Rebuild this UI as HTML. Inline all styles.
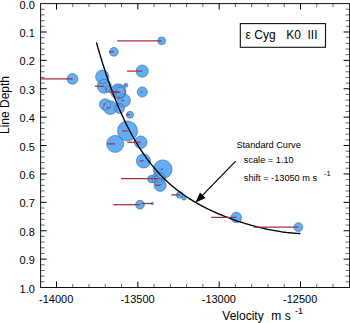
<!DOCTYPE html>
<html><head><meta charset="utf-8"><style>
html,body{margin:0;padding:0;background:#fff;width:350px;height:323px;overflow:hidden}
svg{display:block}
text{font-family:"Liberation Sans",sans-serif}
</style></head><body>
<svg width="350" height="323" viewBox="0 0 350 323"><rect width="350" height="323" fill="#fff"/><g><circle cx="72.5" cy="78.85" r="5.40" fill="#62adf4"/><circle cx="161.7" cy="40.8" r="3.90" fill="#62adf4"/><circle cx="113.85" cy="51.8" r="4.40" fill="#62adf4"/><circle cx="142.2" cy="71.1" r="6.10" fill="#62adf4"/><circle cx="142.3" cy="92.0" r="5.10" fill="#62adf4"/><circle cx="102.3" cy="76.7" r="6.70" fill="#62adf4"/><circle cx="104.3" cy="86.3" r="7.00" fill="#62adf4"/><circle cx="107.6" cy="89.0" r="2.70" fill="#62adf4"/><circle cx="118.2" cy="91.4" r="7.60" fill="#62adf4"/><circle cx="119.0" cy="92.0" r="6.20" fill="#62adf4"/><circle cx="120.6" cy="92.3" r="5.20" fill="#62adf4"/><circle cx="125.9" cy="85.3" r="2.00" fill="#62adf4"/><circle cx="124.0" cy="100.5" r="6.50" fill="#62adf4"/><circle cx="105.1" cy="104.4" r="5.70" fill="#62adf4"/><circle cx="110.3" cy="107.6" r="6.80" fill="#62adf4"/><circle cx="119.5" cy="108.5" r="5.00" fill="#62adf4"/><circle cx="130.0" cy="114.8" r="3.50" fill="#62adf4"/><circle cx="127.5" cy="130.9" r="10.00" fill="#62adf4"/><circle cx="115.2" cy="143.9" r="8.50" fill="#62adf4"/><circle cx="140.7" cy="142.3" r="6.30" fill="#62adf4"/><circle cx="143.5" cy="160.9" r="7.10" fill="#62adf4"/><circle cx="162.7" cy="169.3" r="9.40" fill="#62adf4"/><circle cx="151.5" cy="179.1" r="3.80" fill="#62adf4"/><circle cx="158.5" cy="178.6" r="6.60" fill="#62adf4"/><circle cx="158.5" cy="178.6" r="4.00" fill="#62adf4"/><circle cx="160.2" cy="185.4" r="6.00" fill="#62adf4"/><circle cx="179.7" cy="194.9" r="3.30" fill="#62adf4"/><circle cx="184.0" cy="197.9" r="2.20" fill="#62adf4"/><circle cx="140.0" cy="204.7" r="4.40" fill="#62adf4"/><circle cx="152.4" cy="203.5" r="1.20" fill="#62adf4"/><circle cx="236.3" cy="217.4" r="5.30" fill="#62adf4"/><circle cx="298.4" cy="227.1" r="4.40" fill="#62adf4"/></g><g fill="none" stroke="#36639a" stroke-width="0.65" opacity="0.9"><circle cx="72.5" cy="78.85" r="5.40"/><circle cx="161.7" cy="40.8" r="3.90"/><circle cx="113.85" cy="51.8" r="4.40"/><circle cx="142.2" cy="71.1" r="6.10"/><circle cx="142.3" cy="92.0" r="5.10"/><circle cx="102.3" cy="76.7" r="6.70"/><circle cx="104.3" cy="86.3" r="7.00"/><circle cx="107.6" cy="89.0" r="2.70"/><circle cx="118.2" cy="91.4" r="7.60"/><circle cx="119.0" cy="92.0" r="6.20"/><circle cx="120.6" cy="92.3" r="5.20"/><circle cx="125.9" cy="85.3" r="2.00"/><circle cx="124.0" cy="100.5" r="6.50"/><circle cx="105.1" cy="104.4" r="5.70"/><circle cx="110.3" cy="107.6" r="6.80"/><circle cx="119.5" cy="108.5" r="5.00"/><circle cx="130.0" cy="114.8" r="3.50"/><circle cx="127.5" cy="130.9" r="10.00"/><circle cx="115.2" cy="143.9" r="8.50"/><circle cx="140.7" cy="142.3" r="6.30"/><circle cx="143.5" cy="160.9" r="7.10"/><circle cx="162.7" cy="169.3" r="9.40"/><circle cx="151.5" cy="179.1" r="3.80"/><circle cx="158.5" cy="178.6" r="6.60"/><circle cx="158.5" cy="178.6" r="4.00"/><circle cx="160.2" cy="185.4" r="6.00"/><circle cx="179.7" cy="194.9" r="3.30"/><circle cx="184.0" cy="197.9" r="2.20"/><circle cx="140.0" cy="204.7" r="4.40"/><circle cx="152.4" cy="203.5" r="1.20"/><circle cx="236.3" cy="217.4" r="5.30"/><circle cx="298.4" cy="227.1" r="4.40"/></g><path d="M96.40,42.31 L96.97,44.33 L97.54,46.34 L98.11,48.32 L98.68,50.28 L99.25,52.23 L99.82,54.15 L100.39,56.05 L100.96,57.93 L101.53,59.80 L102.09,61.64 L102.66,63.46 L103.23,65.27 L103.80,67.05 L104.37,68.82 L104.94,70.57 L105.51,72.29 L106.08,74.00 L106.65,75.70 L107.22,77.37 L107.79,79.03 L108.36,80.67 L108.93,82.29 L109.50,83.89 L110.07,85.48 L110.64,87.05 L111.21,88.60 L111.78,90.13 L112.35,91.65 L112.92,93.16 L113.48,94.64 L114.05,96.11 L114.62,97.57 L115.19,99.01 L115.76,100.43 L116.33,101.84 L116.90,103.23 L117.47,104.61 L118.04,105.97 L118.61,107.32 L119.18,108.65 L119.75,109.97 L120.32,111.27 L120.89,112.56 L121.46,113.84 L122.03,115.10 L122.60,116.35 L123.17,117.59 L123.74,118.81 L124.31,120.01 L124.87,121.21 L125.44,122.39 L126.01,123.56 L126.58,124.71 L127.15,125.86 L127.72,126.99 L128.29,128.10 L128.86,129.21 L129.43,130.30 L130.00,131.38 L130.50,132.32 L131.93,134.96 L133.36,137.52 L134.78,140.01 L136.21,142.43 L137.64,144.79 L139.07,147.08 L140.49,149.31 L141.92,151.48 L143.35,153.59 L144.78,155.64 L146.21,157.64 L147.63,159.58 L149.06,161.47 L150.49,163.31 L151.92,165.10 L153.34,166.84 L154.77,168.53 L156.20,170.18 L157.63,171.79 L159.05,173.35 L160.48,174.87 L161.91,176.35 L163.34,177.80 L164.77,179.20 L166.19,180.57 L167.62,181.91 L169.05,183.21 L170.48,184.47 L171.90,185.71 L173.33,186.91 L174.76,188.09 L176.19,189.23 L177.62,190.35 L179.04,191.44 L180.47,192.51 L181.90,193.55 L183.33,194.56 L184.75,195.56 L186.18,196.53 L187.61,197.47 L189.04,198.40 L190.46,199.31 L191.89,200.19 L193.32,201.06 L194.75,201.91 L196.18,202.74 L197.60,203.55 L199.03,204.35 L200.46,205.13 L201.89,205.89 L203.31,206.64 L204.74,207.38 L206.17,208.10 L207.60,208.80 L209.03,209.50 L210.45,210.18 L211.88,210.85 L213.31,211.50 L214.74,212.15 L216.16,212.78 L217.59,213.40 L219.02,214.01 L220.45,214.61 L221.87,215.20 L223.30,215.78 L224.73,216.35 L226.16,216.90 L227.59,217.45 L229.01,217.99 L230.44,218.52 L231.87,219.05 L233.30,219.56 L234.72,220.06 L236.15,220.56 L237.58,221.05 L239.01,221.52 L240.44,221.99 L241.86,222.46 L243.29,222.91 L244.72,223.35 L246.15,223.79 L247.57,224.22 L249.00,224.64 L250.43,225.05 L251.86,225.45 L253.28,225.84 L254.71,226.23 L256.14,226.61 L257.57,226.98 L259.00,227.34 L260.42,227.69 L261.85,228.03 L263.28,228.37 L264.71,228.69 L266.13,229.01 L267.56,229.31 L268.99,229.61 L270.42,229.90 L271.85,230.18 L273.27,230.45 L274.70,230.71 L276.13,230.96 L277.56,231.20 L278.98,231.43 L280.41,231.65 L281.84,231.86 L283.27,232.06 L284.69,232.25 L286.12,232.43 L287.55,232.60 L288.98,232.75 L290.41,232.90 L291.83,233.03 L293.26,233.15 L294.69,233.26 L296.12,233.36 L297.54,233.45 L298.97,233.53 L300.40,233.59" fill="none" stroke="#000" stroke-width="1.35"/><g stroke="#a82e3a" stroke-width="1.25"><line x1="40.5" y1="78.85" x2="72.5" y2="78.85"/><line x1="117.2" y1="40.8" x2="161.7" y2="40.8"/><line x1="109.1" y1="51.8" x2="113.85" y2="51.8"/><line x1="127.1" y1="71.1" x2="142.2" y2="71.1"/><line x1="140.8" y1="92.0" x2="142.3" y2="92.0"/><line x1="95.0" y1="86.3" x2="104.3" y2="86.3"/><line x1="106.1" y1="89.0" x2="107.6" y2="89.0"/><line x1="112.9" y1="92.0" x2="119.0" y2="92.0"/><line x1="109.1" y1="92.3" x2="120.6" y2="92.3"/><line x1="124.4" y1="85.3" x2="125.9" y2="85.3"/><line x1="121.4" y1="100.5" x2="124.0" y2="100.5"/><line x1="103.6" y1="104.4" x2="105.1" y2="104.4"/><line x1="106.6" y1="107.6" x2="110.3" y2="107.6"/><line x1="118.0" y1="108.5" x2="119.5" y2="108.5"/><line x1="126.0" y1="114.8" x2="130.0" y2="114.8"/><line x1="122.1" y1="130.9" x2="127.5" y2="130.9"/><line x1="106.9" y1="143.9" x2="115.2" y2="143.9"/><line x1="127.4" y1="142.3" x2="140.7" y2="142.3"/><line x1="139.4" y1="160.9" x2="143.5" y2="160.9"/><line x1="161.0" y1="169.3" x2="162.7" y2="169.3"/><line x1="121.1" y1="178.6" x2="158.5" y2="178.6"/><line x1="155.6" y1="185.4" x2="160.2" y2="185.4"/><line x1="171.1" y1="194.9" x2="179.7" y2="194.9"/><line x1="113.3" y1="204.7" x2="140.0" y2="204.7"/><line x1="141.6" y1="203.5" x2="152.4" y2="203.5"/><line x1="211.1" y1="217.4" x2="236.3" y2="217.4"/><line x1="254.0" y1="227.1" x2="298.4" y2="227.1"/></g><line x1="235.7" y1="161.1" x2="200.5" y2="197.4" stroke="#000" stroke-width="1.2"/><path d="M195.5,202.4 L200.0,192.6 L205.6,198.0 Z" fill="#000"/><rect x="40.6" y="3.6" width="309.0" height="283.9" fill="none" stroke="#111" stroke-width="1.0"/><path d="M40.6,31.99h6M349.6,31.99h-6M40.6,60.38h6M349.6,60.38h-6M40.6,88.77h6M349.6,88.77h-6M40.6,117.16h6M349.6,117.16h-6M40.6,145.55h6M349.6,145.55h-6M40.6,173.94h6M349.6,173.94h-6M40.6,202.33h6M349.6,202.33h-6M40.6,230.72h6M349.6,230.72h-6M40.6,259.11h6M349.6,259.11h-6M56.50,287.5v-6M56.50,3.6v6M137.83,287.5v-6M137.83,3.6v6M219.16,287.5v-6M219.16,3.6v6M300.49,287.5v-6M300.49,3.6v6" stroke="#000" stroke-width="1.0" fill="none"/><path d="M40.6,9.28h4M349.6,9.28h-4M40.6,14.96h4M349.6,14.96h-4M40.6,20.63h4M349.6,20.63h-4M40.6,26.31h4M349.6,26.31h-4M40.6,37.67h4M349.6,37.67h-4M40.6,43.35h4M349.6,43.35h-4M40.6,49.02h4M349.6,49.02h-4M40.6,54.70h4M349.6,54.70h-4M40.6,66.06h4M349.6,66.06h-4M40.6,71.74h4M349.6,71.74h-4M40.6,77.41h4M349.6,77.41h-4M40.6,83.09h4M349.6,83.09h-4M40.6,94.45h4M349.6,94.45h-4M40.6,100.13h4M349.6,100.13h-4M40.6,105.80h4M349.6,105.80h-4M40.6,111.48h4M349.6,111.48h-4M40.6,122.84h4M349.6,122.84h-4M40.6,128.52h4M349.6,128.52h-4M40.6,134.19h4M349.6,134.19h-4M40.6,139.87h4M349.6,139.87h-4M40.6,151.23h4M349.6,151.23h-4M40.6,156.91h4M349.6,156.91h-4M40.6,162.58h4M349.6,162.58h-4M40.6,168.26h4M349.6,168.26h-4M40.6,179.62h4M349.6,179.62h-4M40.6,185.30h4M349.6,185.30h-4M40.6,190.97h4M349.6,190.97h-4M40.6,196.65h4M349.6,196.65h-4M40.6,208.01h4M349.6,208.01h-4M40.6,213.69h4M349.6,213.69h-4M40.6,219.36h4M349.6,219.36h-4M40.6,225.04h4M349.6,225.04h-4M40.6,236.40h4M349.6,236.40h-4M40.6,242.08h4M349.6,242.08h-4M40.6,247.75h4M349.6,247.75h-4M40.6,253.43h4M349.6,253.43h-4M40.6,264.79h4M349.6,264.79h-4M40.6,270.47h4M349.6,270.47h-4M40.6,276.14h4M349.6,276.14h-4M40.6,281.82h4M349.6,281.82h-4M72.77,287.5v-3.5M72.77,3.6v3.5M89.03,287.5v-3.5M89.03,3.6v3.5M105.30,287.5v-3.5M105.30,3.6v3.5M121.56,287.5v-3.5M121.56,3.6v3.5M154.10,287.5v-3.5M154.10,3.6v3.5M170.36,287.5v-3.5M170.36,3.6v3.5M186.63,287.5v-3.5M186.63,3.6v3.5M202.89,287.5v-3.5M202.89,3.6v3.5M235.43,287.5v-3.5M235.43,3.6v3.5M251.69,287.5v-3.5M251.69,3.6v3.5M267.96,287.5v-3.5M267.96,3.6v3.5M284.22,287.5v-3.5M284.22,3.6v3.5M316.76,287.5v-3.5M316.76,3.6v3.5M333.02,287.5v-3.5M333.02,3.6v3.5" stroke="#000" stroke-width="0.6" fill="none"/><g font-family="Liberation Sans, sans-serif" font-size="12" fill="#000"><text x="34.9" y="8.60" text-anchor="end" font-size="11">0.0</text><text x="34.9" y="36.99" text-anchor="end" font-size="11">0.1</text><text x="34.9" y="65.38" text-anchor="end" font-size="11">0.2</text><text x="34.9" y="93.77" text-anchor="end" font-size="11">0.3</text><text x="34.9" y="122.16" text-anchor="end" font-size="11">0.4</text><text x="34.9" y="150.55" text-anchor="end" font-size="11">0.5</text><text x="34.9" y="178.94" text-anchor="end" font-size="11">0.6</text><text x="34.9" y="207.33" text-anchor="end" font-size="11">0.7</text><text x="34.9" y="235.72" text-anchor="end" font-size="11">0.8</text><text x="34.9" y="264.11" text-anchor="end" font-size="11">0.9</text><text x="34.9" y="292.50" text-anchor="end" font-size="11">1.0</text><text x="56.20" y="302.6" text-anchor="middle" font-size="11">-14000</text><text x="137.53" y="302.6" text-anchor="middle" font-size="11">-13500</text><text x="218.86" y="302.6" text-anchor="middle" font-size="11">-13000</text><text x="300.19" y="302.6" text-anchor="middle" font-size="11">-12500</text><text x="222.3" y="320.4">Velocity</text><text x="271.3" y="320.4">m s</text><text transform="translate(9,134) rotate(-90)">Line Depth</text></g><text x="295" y="314.3" font-family="Liberation Sans, sans-serif" font-size="9">-1</text><rect x="240.3" y="23.6" width="85.2" height="23.7" fill="#fff" stroke="#111" stroke-width="1.1"/><g font-family="Liberation Sans, sans-serif" font-size="12"><text x="245.5" y="39.4">ε</text><text x="254.3" y="39.4">Cyg</text><text x="286.3" y="39.4">K0</text><text x="307.5" y="39.4">III</text></g><g font-family="Liberation Sans, sans-serif" font-size="9.2"><text x="236.4" y="147.8">Standard Curve</text><text x="243.8" y="162.6">scale = 1.10</text><text x="243.8" y="181">shift = -13050 m s</text></g><text x="324.0" y="176.3" font-family="Liberation Sans, sans-serif" font-size="7.5">-1</text></svg>
</body></html>
